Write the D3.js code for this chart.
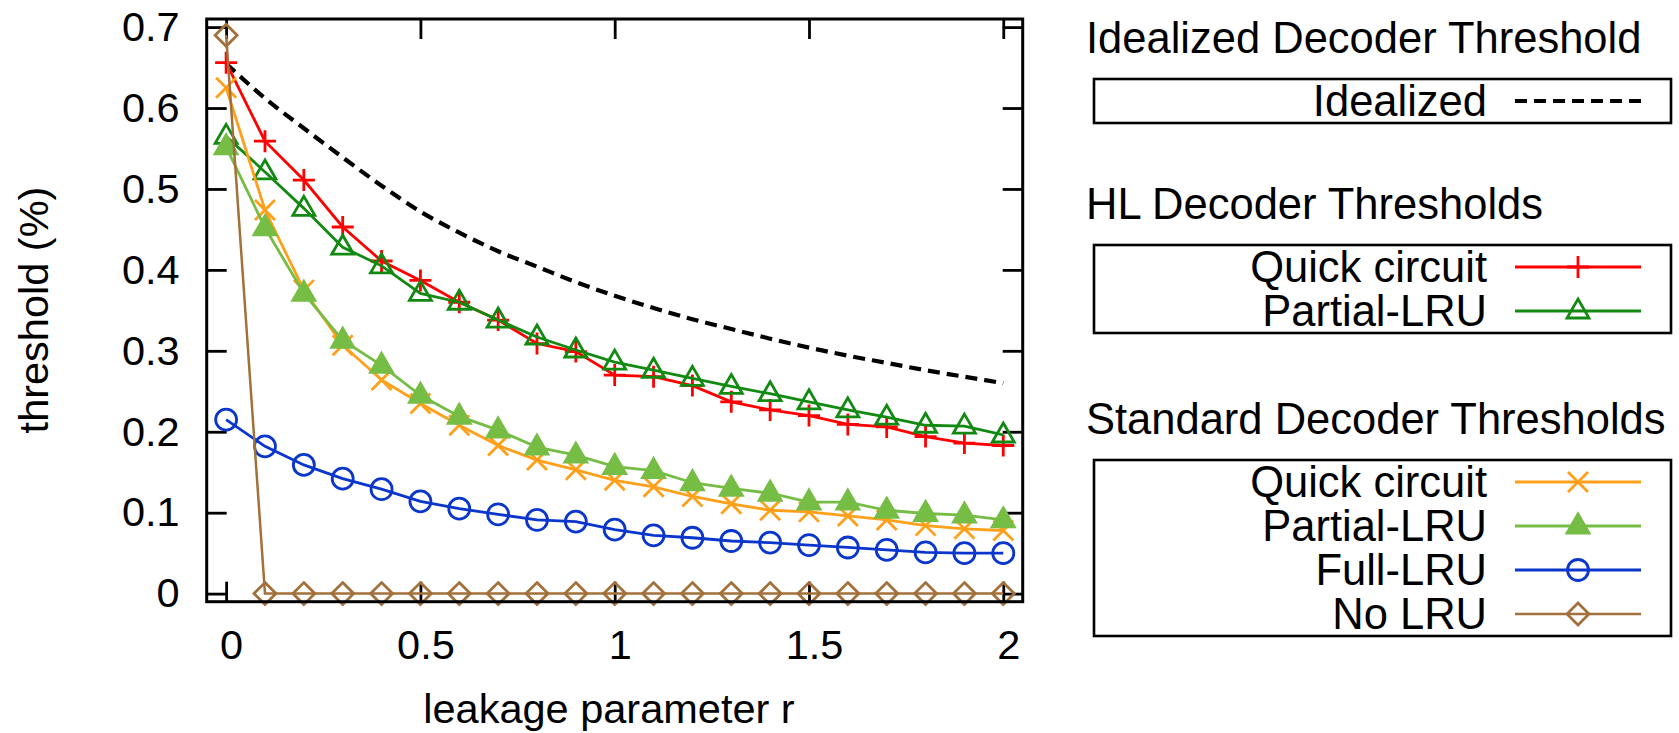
<!DOCTYPE html>
<html lang="en">
<head>
    <meta charset="UTF-8">
    <title>Leakage thresholds</title>
    <script src="https://cdn.jsdelivr.net/npm/d3@7"></script>
    <style>
        body { margin: 0; background: #fff; }
        svg text { font-family: "Liberation Sans", Arial, Helvetica, sans-serif; fill: #000; }
    </style>
</head>
<body>
    <div id="chart"></div>
    <script>
        // leakage parameter r
        var xs = [0, 0.1, 0.2, 0.3, 0.4, 0.5, 0.6, 0.7, 0.8, 0.9, 1.0,
                  1.1, 1.2, 1.3, 1.4, 1.5, 1.6, 1.7, 1.8, 1.9, 2.0];

        var idealized = [0.655, 0.612, 0.575, 0.539, 0.504, 0.472, 0.446, 0.423, 0.404, 0.385, 0.368,
                         0.353, 0.339, 0.327, 0.315, 0.304, 0.294, 0.285, 0.276, 0.268, 0.260];
        var hlQuick = [0.656, 0.559, 0.511, 0.453, 0.411, 0.387, 0.360, 0.338, 0.309, 0.299, 0.270,
                       0.268, 0.257, 0.237, 0.227, 0.220, 0.209, 0.206, 0.194, 0.186, 0.183];
        var hlPartial = [0.565, 0.521, 0.476, 0.428, 0.405, 0.371, 0.360, 0.338, 0.317, 0.301, 0.286,
                         0.276, 0.266, 0.256, 0.247, 0.237, 0.227, 0.218, 0.208, 0.207, 0.196];
        var stdQuick = [0.625, 0.474, 0.375, 0.307, 0.264, 0.235, 0.208, 0.183, 0.165, 0.153, 0.140,
                        0.132, 0.120, 0.111, 0.103, 0.101, 0.096, 0.091, 0.084, 0.080, 0.078];
        var stdPartial = [0.552, 0.452, 0.371, 0.313, 0.282, 0.245, 0.219, 0.202, 0.181, 0.171, 0.157,
                          0.152, 0.137, 0.130, 0.124, 0.113, 0.113, 0.103, 0.099, 0.097, 0.091];
        var fullLRU = [0.215, 0.182, 0.159, 0.142, 0.129, 0.114, 0.105, 0.098, 0.091, 0.089, 0.079,
                       0.072, 0.069, 0.065, 0.063, 0.060, 0.057, 0.054, 0.051, 0.050, 0.050];
        var noLRU = [0.690, 0, 0, 0, 0, 0, 0, 0, 0, 0, 0,
                     0, 0, 0, 0, 0, 0, 0, 0, 0, 0];

        var xTicks = [0, 0.5, 1, 1.5, 2];
        var yTicks = [0, 0.1, 0.2, 0.3, 0.4, 0.5, 0.6, 0.7];

        var groupTitles = ["Idealized Decoder Threshold", "HL Decoder Thresholds", "Standard Decoder Thresholds"];

        // marker shapes, centred on the point
        var markers = {
            none: null,
            plus: "M-11,0H11M0,-11V11",
            times: "M-10,-10L10,10M-10,10L10,-10",
            triangle: "M0,-12L11,7H-11Z",
            circle: "M10.5,0A10.5,10.5 0 1,1 -10.5,0A10.5,10.5 0 1,1 10.5,0",
            diamond: "M0,-11L11,0L0,11L-11,0Z"
        };

        var series = [
            { group: 0, name: "Idealized", values: idealized, color: "#000000", marker: "none", dash: "12,7", width: 4.2, fill: "none" },
            { group: 1, name: "Quick circuit", values: hlQuick, color: "#ff0000", marker: "plus", width: 2.8, fill: "none" },
            { group: 1, name: "Partial-LRU", values: hlPartial, color: "#128a12", marker: "triangle", width: 2.8, fill: "none" },
            { group: 2, name: "Quick circuit", values: stdQuick, color: "#ffa01a", marker: "times", width: 2.8, fill: "none" },
            { group: 2, name: "Partial-LRU", values: stdPartial, color: "#76bd45", marker: "triangle", width: 2.8, fill: "#76bd45" },
            { group: 2, name: "Full-LRU", values: fullLRU, color: "#0a36cc", marker: "circle", width: 2.8, fill: "none" },
            { group: 2, name: "No LRU", values: noLRU, color: "#a2703a", marker: "diamond", width: 2.5, fill: "none" }
        ];

        var width = 1679,
            height = 733,
            frame = { left: 206.7, right: 1022.7, top: 19, bottom: 601.7 };

        var svg = d3.select('#chart')
            .append('svg')
            .attr('width', width)
            .attr('height', height);

        var x = d3.scaleLinear()
            .domain([-0.05, 2.05])
            .range([frame.left, frame.right]);

        var y = d3.scaleLinear()
            .domain([-0.01, 0.71])
            .range([frame.bottom, frame.top]);

        // ticks on all four sides, pointing inward
        var styleAxis = function (g) {
            g.select('.domain').remove();
            g.selectAll('.tick line').attr('stroke', '#000').attr('stroke-width', 2.8);
            g.selectAll('.tick text')
                .style('font-family', '"Liberation Sans", Arial, sans-serif')
                .style('font-size', '41.5px')
                .attr('fill', '#000');
        };

        svg.append('g')
            .attr('transform', 'translate(0,' + frame.bottom + ')')
            .call(d3.axisBottom(x).tickValues(xTicks).tickSize(-20).tickPadding(28).tickFormat(d3.format('~g')))
            .call(styleAxis)
            .selectAll('.tick text')
            .attr('dx', 5);

        svg.append('g')
            .attr('transform', 'translate(0,' + frame.top + ')')
            .call(d3.axisTop(x).tickValues(xTicks).tickSize(-20).tickFormat(''))
            .call(styleAxis);

        svg.append('g')
            .attr('transform', 'translate(' + frame.left + ',0)')
            .call(d3.axisLeft(y).tickValues(yTicks).tickSize(-20).tickPadding(27)
                .tickFormat(function (d) { return d === 0 ? '0' : d.toFixed(1); }))
            .call(styleAxis);

        svg.append('g')
            .attr('transform', 'translate(' + frame.right + ',0)')
            .call(d3.axisRight(y).tickValues(yTicks).tickSize(-20).tickFormat(''))
            .call(styleAxis);

        // series lines and markers
        var line = d3.line()
            .x(function (d, i) { return x(xs[i]); })
            .y(function (d) { return y(d); });

        var plot = svg.append('g').attr('class', 'series');

        series.forEach(function (s) {
            plot.append('path')
                .attr('d', line.curve(s.marker === 'none' ? d3.curveMonotoneX : d3.curveLinear)(s.values))
                .attr('fill', 'none')
                .attr('stroke', s.color)
                .attr('stroke-width', s.width)
                .attr('stroke-dasharray', s.dash || null);

            if (markers[s.marker]) {
                plot.selectAll(null)
                    .data(s.values)
                    .enter()
                    .append('path')
                    .attr('d', markers[s.marker])
                    .attr('transform', function (d, i) {
                        return 'translate(' + x(xs[i]) + ',' + y(d) + ')';
                    })
                    .attr('fill', s.fill)
                    .attr('stroke', s.color)
                    .attr('stroke-width', 2.8);
            }
        });

        // frame
        svg.append('rect')
            .attr('x', frame.left)
            .attr('y', frame.top)
            .attr('width', frame.right - frame.left)
            .attr('height', frame.bottom - frame.top)
            .attr('fill', 'none')
            .attr('stroke', '#000')
            .attr('stroke-width', 3);

        // axis titles
        svg.append('text')
            .attr('x', 609)
            .attr('y', 723)
            .attr('text-anchor', 'middle')
            .style('font-size', '41.5px')
            .text('leakage parameter r');

        svg.append('text')
            .attr('transform', 'translate(48,310) rotate(-90)')
            .attr('text-anchor', 'middle')
            .style('font-size', '41.5px')
            .text('threshold (%)');

        // legends: a title and a framed box per decoder group
        var titleBaselines = [53, 219, 434],
            boxLeft = 1094,
            boxRight = 1671,
            rowStep = 44,
            textRight = 1487,
            sampleX0 = 1515,
            sampleX1 = 1641;

        groupTitles.forEach(function (title, gi) {
            var entries = series.filter(function (s) { return s.group === gi; });
            var top = titleBaselines[gi] + 26;
            var lg = svg.append('g').attr('class', 'legend');

            lg.append('text')
                .attr('x', 1086)
                .attr('y', titleBaselines[gi])
                .style('font-size', '43.5px')
                .text(title);

            lg.append('rect')
                .attr('x', boxLeft)
                .attr('y', top)
                .attr('width', boxRight - boxLeft)
                .attr('height', entries.length * rowStep)
                .attr('fill', 'none')
                .attr('stroke', '#000')
                .attr('stroke-width', 2.6);

            var row = lg.selectAll('.row')
                .data(entries)
                .enter()
                .append('g')
                .attr('class', 'row')
                .attr('transform', function (d, i) {
                    return 'translate(0,' + (top + 22 + i * rowStep) + ')';
                });

            row.append('text')
                .attr('x', textRight)
                .attr('dy', '0.35em')
                .attr('text-anchor', 'end')
                .style('font-size', '43.5px')
                .text(function (d) { return d.name; });

            row.append('line')
                .attr('x1', sampleX0)
                .attr('x2', sampleX1)
                .attr('stroke', function (d) { return d.color; })
                .attr('stroke-width', function (d) { return d.width; })
                .attr('stroke-dasharray', function (d) { return d.dash || null; });

            row.filter(function (d) { return markers[d.marker]; })
                .append('path')
                .attr('d', function (d) { return markers[d.marker]; })
                .attr('transform', 'translate(' + (sampleX0 + sampleX1) / 2 + ',0)')
                .attr('fill', function (d) { return d.fill; })
                .attr('stroke', function (d) { return d.color; })
                .attr('stroke-width', 2.8);
        });
    </script>
</body>
</html>
